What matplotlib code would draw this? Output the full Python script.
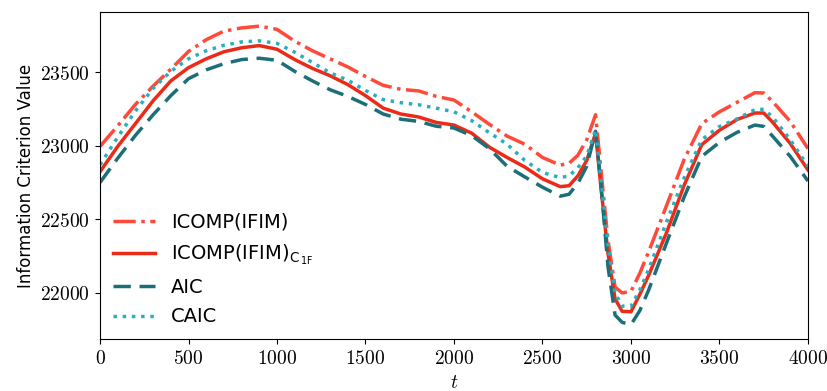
import numpy as np
import matplotlib
matplotlib.use("Agg")
import matplotlib.pyplot as plt
from matplotlib.ticker import FuncFormatter

plt.rcParams["mathtext.fontset"] = "cm"

# time grid (shared by all series)
t = [0, 100, 200, 300, 400, 500, 600, 700, 800, 900, 1000, 1100, 1200, 1300,
     1400, 1500, 1600, 1700, 1800, 1900, 2000, 2100, 2200, 2300, 2400, 2500,
     2600, 2650, 2700, 2750, 2800, 2830, 2870, 2910, 2950, 3000, 3050, 3100,
     3200, 3300, 3400, 3500, 3600, 3700, 3750, 3800, 3900, 4000]

# ICOMP(IFIM)
icomp = [22995, 23135, 23280, 23405, 23520, 23640, 23720, 23778, 23800, 23812,
         23790, 23710, 23645, 23590, 23535, 23470, 23410, 23383, 23372, 23335,
         23310, 23230, 23145, 23065, 23010, 22920, 22868, 22880, 22935, 23040,
         23210, 22840, 22360, 22040, 22000, 22010, 22134, 22280, 22590, 22905,
         23150, 23230, 23295, 23360, 23358, 23300, 23165, 22980]

# ICOMP(IFIM)_C1F
icomp_c1f = [22823, 22995, 23150, 23305, 23440, 23530, 23590, 23638, 23665, 23680,
             23655, 23585, 23525, 23475, 23415, 23340, 23255, 23215, 23195, 23158,
             23140, 23085, 22990, 22920, 22855, 22775, 22722, 22728, 22795, 22900,
             23085, 22720, 22270, 21960, 21875, 21872, 21990, 22120, 22406, 22730,
             23007, 23105, 23178, 23222, 23222, 23160, 23015, 22835]

# AIC
aic = [22750, 22915, 23070, 23210, 23340, 23455, 23515, 23557, 23585, 23594,
       23580, 23505, 23440, 23380, 23335, 23280, 23215, 23180, 23165, 23132,
       23120, 23068, 22980, 22860, 22788, 22718, 22657, 22670, 22745, 22860,
       23098, 22740, 22180, 21850, 21800, 21785, 21880, 22020, 22337, 22650,
       22927, 23023, 23091, 23140, 23131, 23065, 22927, 22760]

# CAIC
caic = [22870, 23058, 23235, 23390, 23505, 23590, 23645, 23682, 23705, 23712,
        23695, 23635, 23565, 23495, 23445, 23375, 23313, 23292, 23278, 23255,
        23230, 23170, 23088, 23010, 22900, 22818, 22783, 22795, 22850, 22930,
        23109, 22780, 22330, 21998, 21910, 21910, 22020, 22160, 22480, 22780,
        23041, 23130, 23182, 23245, 23247, 23195, 23040, 22860]

fig = plt.figure(figsize=(8.28, 3.91), dpi=100)
ax = fig.add_axes([0.1208, 0.133, 0.855, 0.8363])

ax.plot(t, icomp, color="#FF4A3A", lw=2.5, ls="-.", label="ICOMP(IFIM)")
ax.plot(t, icomp_c1f, color="#EC2A18", lw=2.5, ls="-",
        label=r"ICOMP(IFIM)$_{\mathregular{C}_{\mathregular{1F}}}$")
ax.plot(t, aic, color="#1D6F77", lw=2.5, ls=(0, (5, 2.5)), label="AIC")
ax.plot(t, caic, color="#27AFC0", lw=2.5, ls=":", label="CAIC")

ax.set_xlim(0, 4000)
ax.set_ylim(21687, 23908)
ax.set_xticks(np.arange(0, 4001, 500))
ax.set_yticks([22000, 22500, 23000, 23500])
fmt = FuncFormatter(lambda v, p: r"$%d$" % v)
ax.xaxis.set_major_formatter(fmt)
ax.yaxis.set_major_formatter(fmt)
ax.tick_params(labelsize=14)

ax.set_xlabel(r"$t$", fontsize=14)
ax.set_ylabel("Information Criterion Value", fontsize=12)

ax.legend(loc="lower left", frameon=False, fontsize=14, handlelength=2.2,
          labelspacing=0.55, borderaxespad=0.25)

fig.savefig("out.png", dpi=100)
